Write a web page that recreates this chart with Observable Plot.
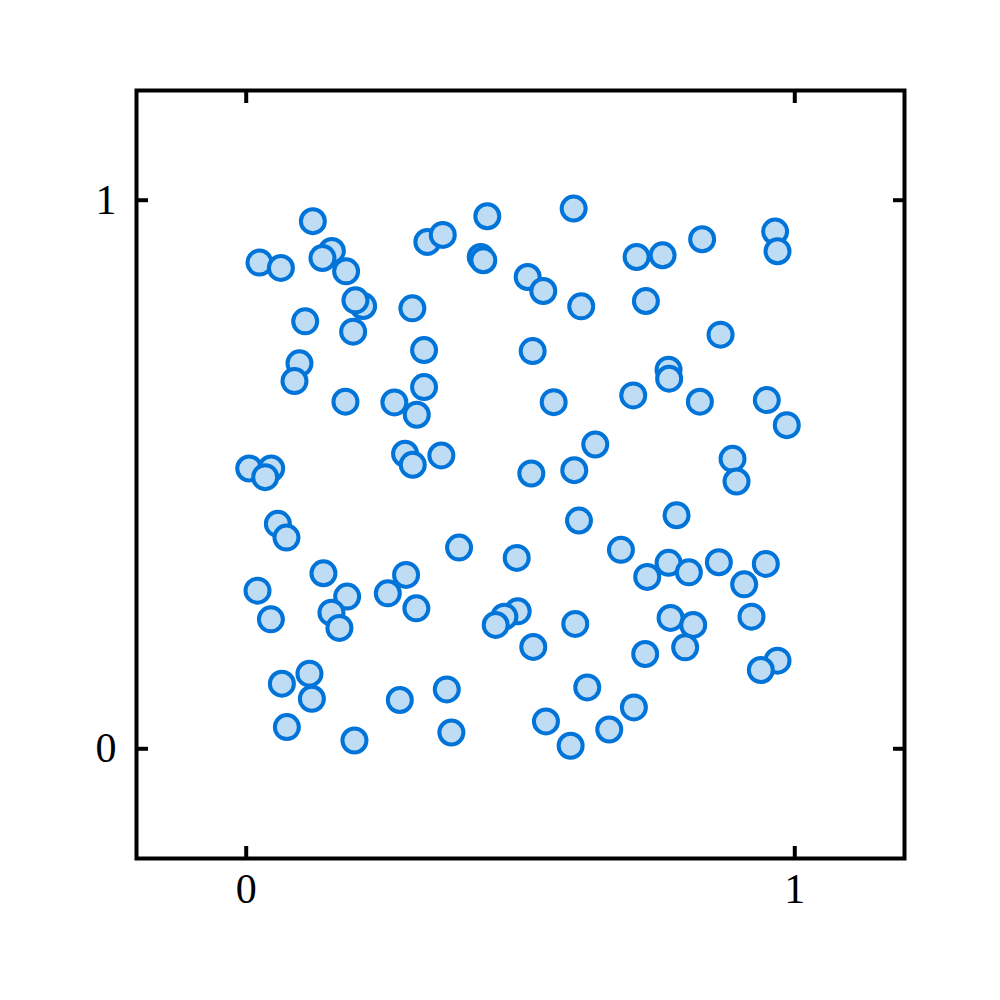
<!DOCTYPE html>
<html>
<head>
<meta charset="utf-8">
<script src="https://cdn.jsdelivr.net/npm/d3@7"></script>
<script src="https://cdn.jsdelivr.net/npm/@observablehq/plot@0.6"></script>
<style>
  body { margin: 0; background: #fff; }
  #chart svg { display: block; }
</style>
</head>
<body>
<div id="chart"></div>
<script>
const xs = [0.1215,0.1561,0.1390,0.0242,0.0632,0.1821,0.2131,0.1991,0.3029,0.1075,
            0.1949,0.3242,0.0971,0.0880,0.1809,0.2701,0.3109,0.3242,0.3302,0.3583,
            0.4395,0.5969,0.4275,0.4322,0.5131,0.5415,0.6107,0.7117,0.7590,0.8311,
            0.9641,0.9685,0.7286,0.8647,0.5222,0.7699,0.7710,0.5605,0.7055,0.8270,
            0.9490,0.9854,0.6363,0.0055,0.0455,0.0346,0.2896,0.3036,0.3557,0.0577,
            0.0734,0.3880,0.1408,0.0206,0.0450,0.1840,0.1554,0.1699,0.2581,0.2914,
            0.3102,0.0650,0.1153,0.1197,0.0741,0.1973,0.2800,0.3656,0.3740,0.5197,
            0.5980,0.8865,0.8938,0.7845,0.6066,0.6831,0.4931,0.7699,0.7310,0.8069,
            0.8616,0.9472,0.9077,0.4949,0.4705,0.4548,0.5998,0.5233,0.7736,0.8148,
            0.8002,0.9211,0.7273,0.9685,0.9381,0.6217,0.7067,0.5464,0.6618,0.5914];
const ys = [0.9617,0.9075,0.8947,0.8863,0.8765,0.8704,0.8071,0.8175,0.8029,0.7792,
            0.7604,0.7268,0.7026,0.6703,0.6327,0.6314,0.6089,0.6593,0.9239,0.9367,
            0.9708,0.9848,0.8965,0.8905,0.8600,0.8345,0.8066,0.8965,0.8996,0.9288,
            0.9429,0.9069,0.8162,0.7549,0.7250,0.6911,0.6746,0.6319,0.6442,0.6327,
            0.6356,0.5900,0.5547,0.5109,0.5109,0.4951,0.5378,0.5177,0.5347,0.4100,
            0.3850,0.3668,0.3199,0.2883,0.2360,0.2774,0.2482,0.2203,0.2834,0.3170,
            0.2560,0.1186,0.1369,0.0912,0.0396,0.0151,0.0889,0.1082,0.0297,0.5018,
            0.5078,0.5286,0.4872,0.4257,0.4161,0.3626,0.3480,0.3389,0.3133,0.3217,
            0.3400,0.3370,0.2998,0.2505,0.2409,0.2257,0.2276,0.1856,0.2385,0.2257,
            0.1849,0.2409,0.1728,0.1606,0.1436,0.1119,0.0754,0.0498,0.0352,0.0055];
const tickValues = [0, 1];
const tickLabels = ["0", "1"];

const data = xs.map((x, i) => ({x, y: ys[i]}));
const font = "'Liberation Serif', 'DejaVu Serif', serif";
const fmt = d => tickLabels[tickValues.indexOf(d)];

const chart = Plot.plot({
  width: 1000,
  height: 1000,
  marginLeft: 136,
  marginRight: 96,
  marginTop: 90,
  marginBottom: 142,
  style: {fontFamily: font, background: "#fff"},
  x: {domain: [-0.2, 1.2]},
  y: {domain: [-0.2, 1.2]},
  marks: [
    Plot.dot(data, {x: "x", y: "y", r: 12, fill: "#bfdcf5", stroke: "#0074d9", strokeWidth: 4}),
    Plot.frame({stroke: "#000", strokeWidth: 4}),
    Plot.axisX({anchor: "bottom", ticks: tickValues, tickFormat: fmt, tickSize: 0, tickPadding: 15, fontSize: 42, fill: "#000", label: null}),
    Plot.axisY({anchor: "left", ticks: tickValues, tickFormat: fmt, tickSize: 0, tickPadding: 20, fontSize: 42, fill: "#000", label: null}),
    Plot.axisX({anchor: "bottom", ticks: tickValues, text: null, tickSize: 12, dy: -12, strokeWidth: 4, stroke: "#000", label: null}),
    Plot.axisX({anchor: "top", ticks: tickValues, text: null, tickSize: 12, dy: 12, strokeWidth: 4, stroke: "#000", label: null}),
    Plot.axisY({anchor: "left", ticks: tickValues, text: null, tickSize: 12, dx: 12, strokeWidth: 4, stroke: "#000", label: null}),
    Plot.axisY({anchor: "right", ticks: tickValues, text: null, tickSize: 12, dx: -12, strokeWidth: 4, stroke: "#000", label: null})
  ]
});
document.getElementById("chart").appendChild(chart);
</script>
</body>
</html>
